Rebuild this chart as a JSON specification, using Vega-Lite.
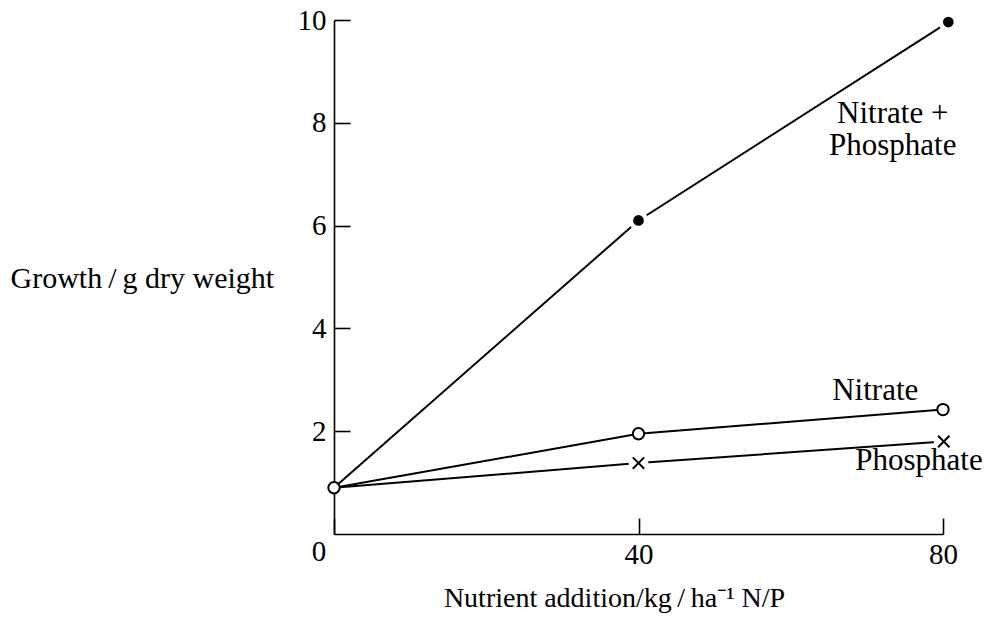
{
  "$schema": "https://vega.github.io/schema/vega-lite/v6.json",
  "width": 609,
  "height": 514,
  "autosize": "none",
  "padding": {"left": 334, "top": 20, "right": 45, "bottom": 83},
  "background": "white",
  "config": {
    "view": {"stroke": null},
    "font": "Liberation Serif",
    "axis": {
      "domainColor": "black", "tickColor": "black", "labelColor": "black", "titleColor": "black",
      "grid": false, "domainWidth": 1.6, "tickWidth": 1.6,
      "labelFont": "Liberation Serif", "titleFont": "Liberation Serif",
      "labelFontSize": 29, "titleFontSize": 28, "titleFontWeight": "normal",
      "labelOverlap": false, "labelFlush": false
    }
  },
  "datasets": {
    "lines": [
      {"series": "Nitrate + Phosphate", "x": 0, "y": 0.9},
      {"series": "Nitrate + Phosphate", "x": 40, "y": 6.1},
      {"series": "Nitrate + Phosphate", "x": 80.7, "y": 9.96},
      {"series": "Nitrate", "x": 0, "y": 0.9},
      {"series": "Nitrate", "x": 40, "y": 1.95},
      {"series": "Nitrate", "x": 80, "y": 2.42},
      {"series": "Phosphate", "x": 0, "y": 0.9},
      {"series": "Phosphate", "x": 40, "y": 1.38},
      {"series": "Phosphate", "x": 80.1, "y": 1.8}
    ],
    "labels": [
      {"label": "Nitrate +", "x": 73.4, "y": 8.0},
      {"label": "Phosphate", "x": 73.4, "y": 7.38},
      {"label": "Nitrate", "x": 71.1, "y": 2.61},
      {"label": "Phosphate", "x": 76.85, "y": 1.25}
    ],
    "origin": [
      {"label": "0", "x": 0, "y": 0}
    ]
  },
  "encoding": {
    "x": {
      "field": "x", "type": "quantitative",
      "scale": {"domain": [0, 80], "nice": false},
      "axis": {
        "values": [0, 40, 80], "tickSize": -16, "labelPadding": 22,
        "labelExpr": "datum.value === 0 ? '' : datum.label",
        "title": "Nutrient addition/kg\u2009/\u2009ha\u207b\u00b9 N/P",
        "titleX": 280, "titleY": 72, "titleBaseline": "alphabetic", "titleAlign": "center"
      }
    },
    "y": {
      "field": "y", "type": "quantitative",
      "scale": {"domain": [0, 10], "nice": false},
      "axis": {
        "values": [2, 4, 6, 8, 10], "tickSize": -16, "labelPadding": 24,
        "title": "Growth\u2009/\u2009g dry weight", "titleFontSize": 30,
        "titleAngle": 0, "titleAlign": "left", "titleX": -324, "titleY": 267, "titleBaseline": "alphabetic"
      }
    }
  },
  "layer": [
    {
      "data": {"name": "lines"},
      "mark": {"type": "line", "color": "black", "strokeWidth": 2},
      "encoding": {"detail": {"field": "series"}}
    },
    {
      "data": {"name": "lines"},
      "transform": [{"filter": "datum.x > 0 && datum.series !== 'Nitrate'"}],
      "mark": {"type": "point", "shape": "circle", "filled": true, "color": "white", "opacity": 1, "size": 400, "strokeWidth": 0}
    },
    {
      "data": {"name": "lines"},
      "transform": [{"filter": "datum.x > 0 && datum.series === 'Nitrate + Phosphate'"}],
      "mark": {"type": "point", "shape": "circle", "filled": true, "color": "black", "opacity": 1, "size": 115}
    },
    {
      "data": {"name": "lines"},
      "transform": [{"filter": "datum.series === 'Nitrate'"}],
      "mark": {"type": "point", "shape": "circle", "filled": false, "fill": "white", "stroke": "black", "strokeWidth": 2, "opacity": 1, "size": 130}
    },
    {
      "data": {"name": "lines"},
      "transform": [{"filter": "datum.x > 0 && datum.series === 'Phosphate'"}],
      "mark": {"type": "point", "shape": "M-1,-1L1,1M-1,1L1,-1", "filled": false, "stroke": "black", "strokeWidth": 2, "opacity": 1, "size": 130}
    },
    {
      "data": {"name": "labels"},
      "mark": {"type": "text", "font": "Liberation Serif", "fontSize": 31, "color": "black", "align": "center", "baseline": "alphabetic"},
      "encoding": {"text": {"field": "label"}}
    },
    {
      "data": {"name": "origin"},
      "mark": {"type": "text", "font": "Liberation Serif", "fontSize": 29, "color": "black", "align": "center", "baseline": "alphabetic", "dx": -15, "dy": 27},
      "encoding": {"text": {"field": "label"}}
    }
  ]
}
